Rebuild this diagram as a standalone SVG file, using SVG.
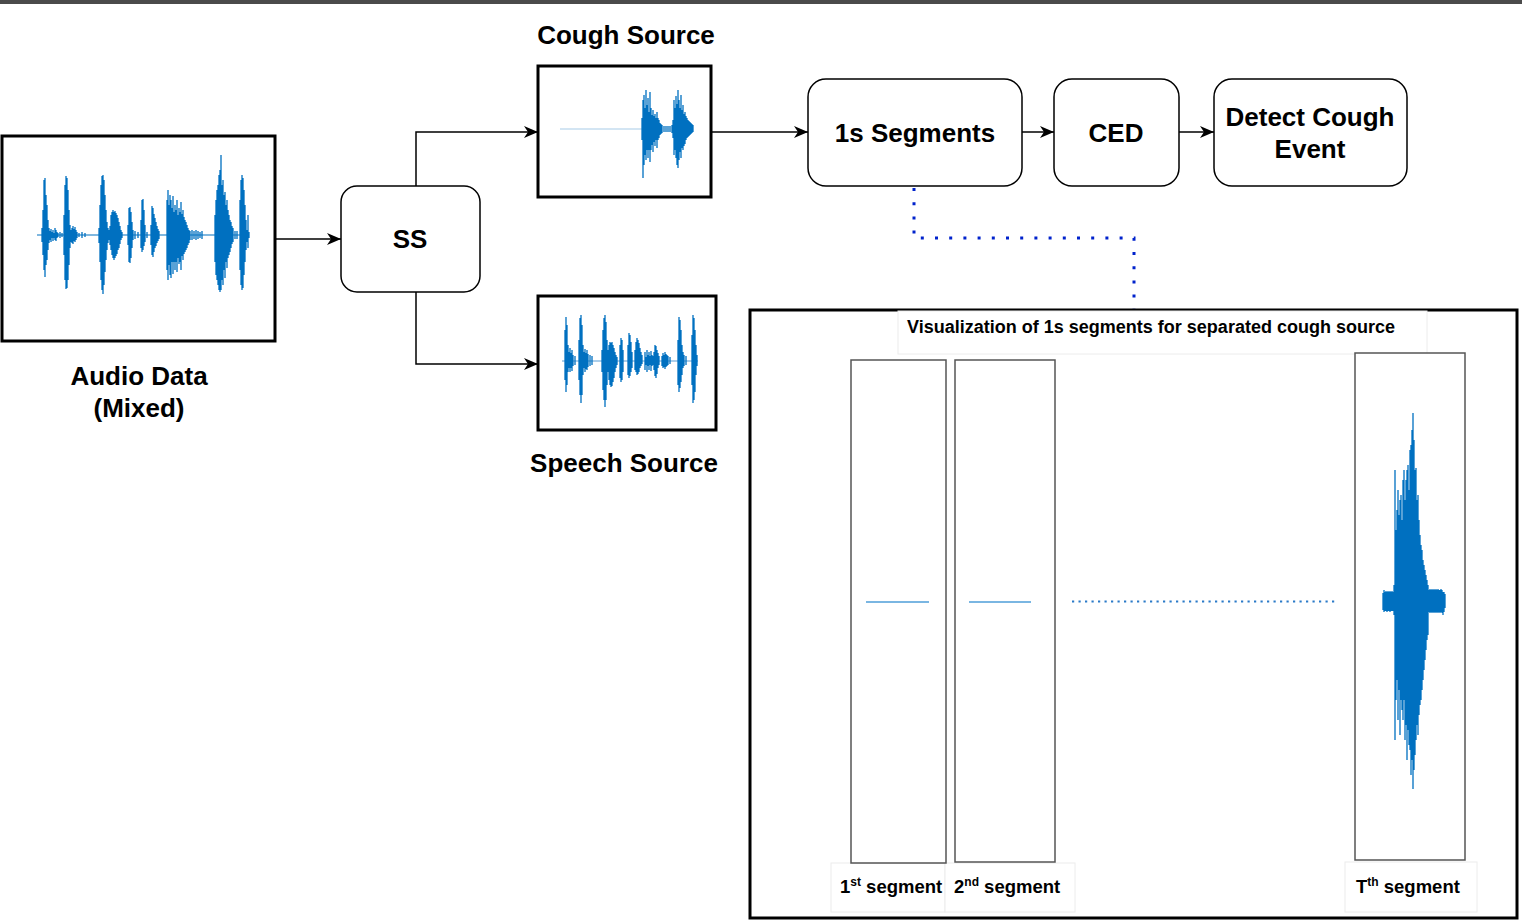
<svg xmlns="http://www.w3.org/2000/svg" width="1522" height="921" viewBox="0 0 1522 921">
<style>
.lbl{font-family:"Liberation Sans",Arial,sans-serif;font-weight:bold;fill:#000;text-anchor:middle}
.big{font-size:26px}
.seg{font-family:"Liberation Sans",Arial,sans-serif;font-weight:bold;font-size:18.5px;fill:#000}
.box{fill:#fff;stroke:#000;stroke-width:3}
.rbox{fill:#fff;stroke:#000;stroke-width:1.5}
.sbox{fill:#fff;stroke:#555;stroke-width:1.5}
.fbox{fill:#fff;stroke:#ececec;stroke-width:1}
.wave{stroke:#0070c0;stroke-width:1.3;fill:none}
.wbase{stroke:#0070c0;stroke-width:1.2}
.conn{stroke:#000;stroke-width:1.5;fill:none}
</style>
<defs>
<marker id="arr" markerUnits="userSpaceOnUse" markerWidth="16" markerHeight="14" refX="14" refY="6" orient="auto">
<path d="M0,0 L14,6 L0,12 L4,6 z" fill="#000"/>
</marker>
</defs>
<rect x="0" y="0" width="1522" height="921" fill="#fff"/>
<rect x="0" y="0" width="1522" height="4" fill="#4b4b4b"/>

<g id="connectors">
<path class="conn" d="M275,239 H341" marker-end="url(#arr)"/>
<path class="conn" d="M416,186 V132 H538" marker-end="url(#arr)"/>
<path class="conn" d="M416,292 V364 H538" marker-end="url(#arr)"/>
<path class="conn" d="M711,132 H808" marker-end="url(#arr)"/>
<path class="conn" d="M1022,132 H1054" marker-end="url(#arr)"/>
<path class="conn" d="M1179,132 H1214" marker-end="url(#arr)"/>
<path d="M914,188 V238 H1134 V309" fill="none" stroke="#0022cc" stroke-width="3" stroke-dasharray="3,11.2"/>
</g>

<g id="audio-data">
<rect class="box" x="2" y="136" width="273" height="205"/>
<line class="wbase" x1="37" y1="235" x2="249" y2="235" stroke="#3a8ad0"/>
<path class="wave" d="M42 228V242M43 210V255M44 180V270M45 178V277M46 195V265M47 205V260M48 220V250M49 228V243M50 231V240M51 229V242M52 232V238M53 230V241M54 233V238M55 228V240M56 230V241M57 232V238M58 233V237M60 232V238M62 233V237M64 215V255M65 185V280M66 176V289M67 178V288M68 190V280M69 210V265M70 225V248M71 230V242M72 228V243M73 226V244M74 229V241M75 227V242M76 230V240M77 232V238M79 233V237M82 232V238M85 233V237M99 228V243M100 205V262M101 185V280M102 176V290M103 175V294M104 180V285M105 195V272M106 210V260M107 222V250M108 228V243M109 230V240M110 226V245M111 215V250M112 212V255M113 210V258M114 212V260M115 211V258M116 213V256M117 215V254M118 218V250M119 222V248M120 226V244M121 230V240M122 232V238M128 225V245M129 208V262M130 207V263M131 212V258M132 222V248M133 230V240M135 231V239M138 232V238M141 220V248M142 200V252M143 199V250M144 210V246M145 225V242M147 232V238M151 225V245M152 206V255M153 208V257M154 214V252M155 218V248M156 222V246M157 226V243M158 229V241M159 231V239M167 200V270M168 190V280M169 205V265M170 195V275M171 200V278M172 208V262M173 196V274M174 212V262M175 205V270M176 210V262M177 200V272M178 215V258M179 208V264M180 212V262M181 202V270M182 214V256M183 210V260M184 217V254M185 220V252M186 222V250M187 225V248M188 228V245M189 230V243M190 231V240M192 230V240M194 231V239M196 230V240M198 231V239M200 232V238M202 231V239M215 215V262M216 200V275M217 190V280M218 185V285M219 175V290M220 170V292M221 155V290M222 185V280M223 180V285M224 195V270M225 192V278M226 205V262M227 200V268M228 210V258M229 215V255M230 220V252M231 222V248M232 226V244M233 228V242M235 231V239M237 231V239M240 200V270M241 180V285M242 175V290M243 178V288M244 190V275M245 205V262M246 220V250M247 230V242M248 215V248M249 232V238"/>
<text class="lbl big" x="139" y="385">Audio Data</text>
<text class="lbl big" x="139" y="417">(Mixed)</text>
</g>

<g id="ss">
<rect class="rbox" x="341" y="186" width="139" height="106" rx="16" ry="16"/>
<text class="lbl big" x="410" y="248">SS</text>
</g>

<g id="cough-source">
<rect class="box" x="538" y="66" width="173" height="131"/>
<line x1="560" y1="129" x2="643" y2="129" stroke="#a8cbe8" stroke-width="1.2"/>
<path class="wave" d="M642 118V140M643 100V178M644 95V165M645 108V155M646 90V160M647 105V150M648 98V158M649 112V150M650 92V162M651 108V150M652 115V145M653 110V152M654 116V142M655 114V146M656 118V140M657 112V148M658 118V140M659 120V138M660 123V135M661 124V134M662 125V133M664 126V132M666 126V132M668 126V132M670 126V132M672 125V133M673 120V138M674 100V155M675 108V150M676 96V158M677 104V165M678 90V168M679 100V160M680 108V152M681 95V158M682 110V148M683 105V150M684 114V146M685 112V144M686 116V140M687 118V138M688 120V137M689 121V136M690 122V135M691 123V134M692 124V133M693 125V132"/>
<text class="lbl big" x="626" y="44">Cough Source</text>
</g>

<g id="speech-source">
<rect class="box" x="538" y="296" width="178" height="134"/>
<line x1="562" y1="361" x2="698" y2="361" stroke="#5a9ed6" stroke-width="1.2"/>
<path class="wave" d="M565 330V380M566 317V392M567 325V385M568 345V372M569 352V368M570 348V372M571 353V368M572 350V371M573 355V366M575 356V365M579 340V380M580 318V395M581 315V403M582 325V395M583 345V375M584 352V368M585 349V372M586 353V369M587 350V370M588 354V367M590 355V366M592 356V365M602 350V372M603 330V390M604 318V400M605 315V407M606 322V400M607 340V385M608 350V372M609 345V380M610 342V385M611 343V387M612 342V386M613 345V382M614 348V378M615 352V372M616 355V368M617 357V365M620 345V378M621 338V382M622 340V380M623 350V372M628 345V375M629 333V378M630 335V376M631 342V372M632 352V368M635 350V370M636 342V372M637 338V375M638 340V374M639 343V372M640 348V368M641 352V366M642 355V364M645 352V370M646 357V365M647 350V372M648 355V366M649 352V370M650 356V365M651 351V371M652 355V366M653 356V365M654 352V370M655 345V376M656 346V378M657 350V374M658 353V368M659 356V365M662 356V366M663 353V368M664 355V367M665 352V369M666 354V367M667 355V366M668 356V365M670 357V364M678 340V385M679 317V392M680 320V388M681 330V382M682 345V375M683 352V368M684 355V366M686 356V365M692 335V385M693 315V403M694 318V400M695 330V392M696 345V375M697 355V366"/>
<text class="lbl big" x="624" y="472">Speech Source</text>
</g>

<g id="segments-1s">
<rect class="rbox" x="808" y="79" width="214" height="107" rx="18" ry="18"/>
<text class="lbl big" x="915" y="142">1s Segments</text>
</g>

<g id="ced">
<rect class="rbox" x="1054" y="79" width="125" height="107" rx="18" ry="18"/>
<text class="lbl big" x="1116" y="142">CED</text>
</g>

<g id="detect-cough-event">
<rect class="rbox" x="1214" y="79" width="193" height="107" rx="18" ry="18"/>
<text class="lbl big" x="1310" y="126">Detect Cough</text>
<text class="lbl big" x="1310" y="158">Event</text>
</g>

<g id="visualization-panel">
<rect class="box" x="750" y="310" width="767" height="608"/>
<rect class="fbox" x="898" y="311" width="529" height="43"/>
<text class="lbl" x="1151" y="333" font-size="17.5" textLength="488" lengthAdjust="spacingAndGlyphs">Visualization of 1s segments for separated cough source</text>

<rect class="fbox" x="831" y="863" width="114" height="49"/>
<rect class="fbox" x="945" y="863" width="130" height="49"/>
<rect class="fbox" x="1345" y="862" width="132" height="50"/>

<rect class="sbox" x="851" y="360" width="95" height="503"/>
<rect class="sbox" x="955" y="360" width="100" height="502"/>
<rect class="sbox" x="1355" y="353" width="110" height="507"/>

<line x1="866" y1="602" x2="929" y2="602" stroke="#7ab6e2" stroke-width="2"/>
<line x1="969" y1="602" x2="1031" y2="602" stroke="#7ab6e2" stroke-width="2"/>
<line x1="1072" y1="601.5" x2="1335" y2="601.5" stroke="#2a7ac8" stroke-width="2.2" stroke-dasharray="2.2,4.3"/>

<path class="wave" d="M1383 593V610M1384 590V612M1385 592V611M1386 591V611M1387 592V612M1388 591V611M1389 592V611M1390 591V612M1391 592V611M1392 591V611M1393 592V611M1394 585V615M1395 470V740M1396 530V700M1397 510V680M1398 490V720M1399 515V690M1400 500V735M1401 495V700M1402 520V710M1403 480V720M1404 470V700M1405 500V740M1406 480V725M1407 470V760M1408 465V730M1409 490V745M1410 450V750M1411 445V775M1412 430V760M1413 413V789M1414 440V770M1415 470V755M1416 468V740M1417 500V725M1418 495V735M1419 520V715M1420 535V705M1421 545V700M1422 550V690M1423 560V680M1424 565V670M1425 570V660M1426 575V650M1427 580V640M1428 585V635M1429 590V612M1430 589V613M1431 590V612M1432 589V613M1433 590V612M1434 589V613M1435 590V612M1436 589V613M1437 590V612M1438 589V613M1439 590V612M1440 590V613M1441 589V612M1442 590V613M1443 592V615M1444 592V612M1445 594V608"/>

<text class="seg" x="840" y="893">1<tspan font-size="12" dy="-7">st</tspan><tspan dy="7"> segment</tspan></text>
<text class="seg" x="954" y="893">2<tspan font-size="12" dy="-7">nd</tspan><tspan dy="7"> segment</tspan></text>
<text class="seg" x="1356" y="893">T<tspan font-size="12" dy="-7">th</tspan><tspan dy="7"> segment</tspan></text>
</g>
</svg>
